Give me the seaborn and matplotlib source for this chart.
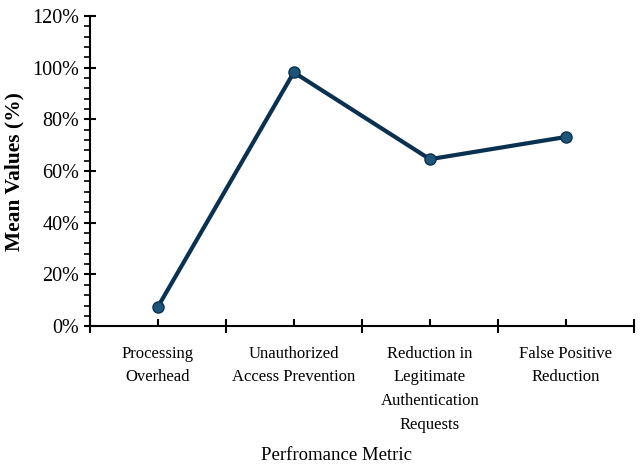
import numpy as np
import pandas as pd
import seaborn as sns
import matplotlib.pyplot as plt
from matplotlib.ticker import MultipleLocator, PercentFormatter, FixedLocator

metrics = ["Processing\nOverhead", "Unauthorized\nAccess Prevention",
           "Reduction in\nLegitimate\nAuthentication\nRequests", "False Positive\nReduction"]
mean_values = [7.4, 98.2, 64.6, 73.2]

df = pd.DataFrame({"metric": metrics, "value": mean_values})

sns.set_style("white")
plt.rcParams["font.family"] = ["Liberation Serif", "DejaVu Serif"]
plt.rcParams["text.color"] = "black"
plt.rcParams["axes.labelcolor"] = "black"
plt.rcParams["xtick.color"] = "black"
plt.rcParams["ytick.color"] = "black"

fig = plt.figure(figsize=(6.41, 4.70), dpi=100)
ax = fig.add_axes([0.140, 0.306, 0.849, 0.660])

sns.lineplot(data=df, x="metric", y="value", ax=ax, color="#0b3150", linewidth=3,
             marker="o", markersize=8, markerfacecolor="#1d5678",
             markeredgecolor="#0b3150", markeredgewidth=1)

ax.set_ylim(0, 120)
ax.set_xlim(-0.5, len(metrics) - 0.5)
ax.yaxis.set_major_locator(MultipleLocator(20))
ax.yaxis.set_minor_locator(MultipleLocator(4))
ax.yaxis.set_major_formatter(PercentFormatter(decimals=0))

ax.xaxis.set_major_locator(FixedLocator(np.arange(-0.5, len(metrics), 1.0)))
ax.xaxis.set_minor_locator(FixedLocator(np.arange(len(metrics))))
ax.set_xticklabels([], minor=False)
ax.set_xticklabels(metrics, minor=True, fontsize=12, linespacing=1.65)

ax.tick_params(axis="x", which="both", bottom=True)
ax.tick_params(axis="y", which="both", left=True)
ax.tick_params(axis="x", which="major", direction="inout", length=10, width=1.5, labelbottom=False)
ax.tick_params(axis="x", which="minor", direction="in", length=5, width=1.5, pad=14)
ax.tick_params(axis="y", which="major", direction="inout", length=9, width=1.5, labelsize=14.5, pad=3)
ax.tick_params(axis="y", which="minor", direction="out", length=4, width=1.2)

sns.despine(ax=ax)
for side in ["left", "bottom"]:
    ax.spines[side].set_linewidth(1.5)
    ax.spines[side].set_color("black")

ax.set_ylabel("Mean Values (%)", fontsize=15.5, fontweight="bold", labelpad=6)
ax.set_xlabel("Perfromance Metric", fontsize=13.5)
ax.xaxis.set_label_coords(0.454, -0.39)

fig.savefig("out.png", dpi=100)
